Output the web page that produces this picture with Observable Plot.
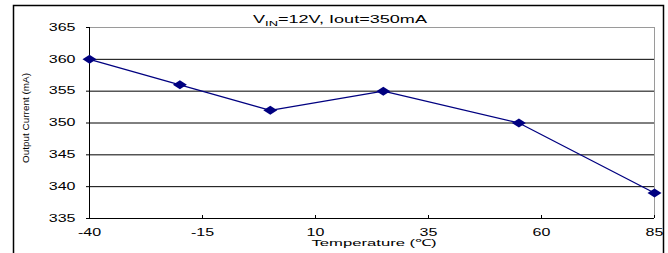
<!DOCTYPE html>
<html>
<head>
<meta charset="utf-8">
<script src="https://cdn.jsdelivr.net/npm/d3@7"></script>
<script src="https://cdn.jsdelivr.net/npm/@observablehq/plot@0.6"></script>
<style>
  html, body { margin: 0; padding: 0; background: white; }
</style>
</head>
<body>
<div id="chart"></div>
<script>
const temps = [-40, -20, 0, 25, 55, 85];
const currents = [360, 356, 352, 355, 350, 339];
const xTicks = [-40, -15, 10, 35, 60, 85];
const yTicks = [335, 340, 345, 350, 355, 360, 365];
const titleMain = "V";
const titleSub = "IN";
const titleRest = "=12V, Iout=350mA";
const xLabel = "Temperature (℃)";
const yLabel = "Output Current (mA)";

const data = temps.map((t, i) => ({t, c: currents[i]}));

const wideDiamond = {
  draw(ctx) {
    ctx.moveTo(0, -4.5);
    ctx.lineTo(7, 0);
    ctx.lineTo(0, 4.5);
    ctx.lineTo(-7, 0);
    ctx.closePath();
  }
};

const fmt = d => String(d);

const chart = Plot.plot({
  width: 668,
  height: 253,
  marginLeft: 89,
  marginRight: 14,
  marginTop: 27,
  marginBottom: 35,
  style: {fontFamily: "'Liberation Sans', Arial, sans-serif", fontSize: "10px", background: "white", color: "black"},
  x: {domain: [-40, 85]},
  y: {domain: [335, 365]},
  marks: [
    Plot.gridY(yTicks.slice(1, -1), {stroke: "black", strokeOpacity: 1}),
    Plot.ruleY([yTicks[yTicks.length - 1]], {stroke: "#9a9a9a"}),
    Plot.ruleX([xTicks[xTicks.length - 1]], {stroke: "#9a9a9a"}),
    Plot.ruleX([xTicks[0]], {stroke: "black"}),
    Plot.ruleY([yTicks[0]], {stroke: "black"}),
    Plot.axisY({ticks: yTicks, tickSize: 3, tickPadding: 11, tickFormat: fmt, label: null}),
    Plot.axisX({ticks: xTicks, tickSize: 0, tickPadding: 10, tickFormat: fmt, label: null}),
    Plot.axisX({ticks: xTicks, tickSize: 3, dy: -3, tickFormat: () => "", label: null}),
    Plot.line(data, {x: "t", y: "c", stroke: "#000080", strokeWidth: 1.3}),
    Plot.dot(data, {x: "t", y: "c", symbol: wideDiamond, fill: "#000080", stroke: "none"})
  ]
});

document.getElementById("chart").appendChild(chart);
const svg = d3.select(chart);

// stretch tick labels horizontally (reference text is wide)
svg.selectAll("text").each(function() {
  const len = this.getComputedTextLength();
  if (len > 0) {
    d3.select(this).attr("textLength", len * 1.6).attr("lengthAdjust", "spacingAndGlyphs");
  }
});

// outer frame
svg.append("rect")
  .attr("x", 13.5).attr("y", 5.5).attr("width", 650).attr("height", 270)
  .attr("fill", "none").attr("stroke", "black").attr("stroke-width", 1.5);

// title
const title = svg.append("text")
  .attr("x", 253).attr("y", 23)
  .attr("text-anchor", "start")
  .attr("font-family", "'Liberation Sans', Arial, sans-serif")
  .attr("font-size", 10.5)
  .attr("fill", "black")
  .attr("textLength", 174).attr("lengthAdjust", "spacingAndGlyphs");
title.append("tspan").text(titleMain);
title.append("tspan").attr("font-size", 7.5).attr("dy", 2.5).text(titleSub);
title.append("tspan").attr("dy", -2.5).text(titleRest);

// x label
svg.append("text")
  .attr("x", 374).attr("y", 246)
  .attr("text-anchor", "middle")
  .attr("font-family", "'Liberation Sans', Arial, sans-serif")
  .attr("font-size", 9.5)
  .attr("fill", "black")
  .attr("textLength", 125).attr("lengthAdjust", "spacingAndGlyphs")
  .text(xLabel);

// y label
svg.append("text")
  .attr("transform", "translate(29,118) rotate(-90)")
  .attr("text-anchor", "middle")
  .attr("font-family", "'Liberation Sans', Arial, sans-serif")
  .attr("font-size", 9)
  .attr("fill", "black")
  .attr("textLength", 90).attr("lengthAdjust", "spacingAndGlyphs")
  .text(yLabel);
</script>
</body>
</html>
